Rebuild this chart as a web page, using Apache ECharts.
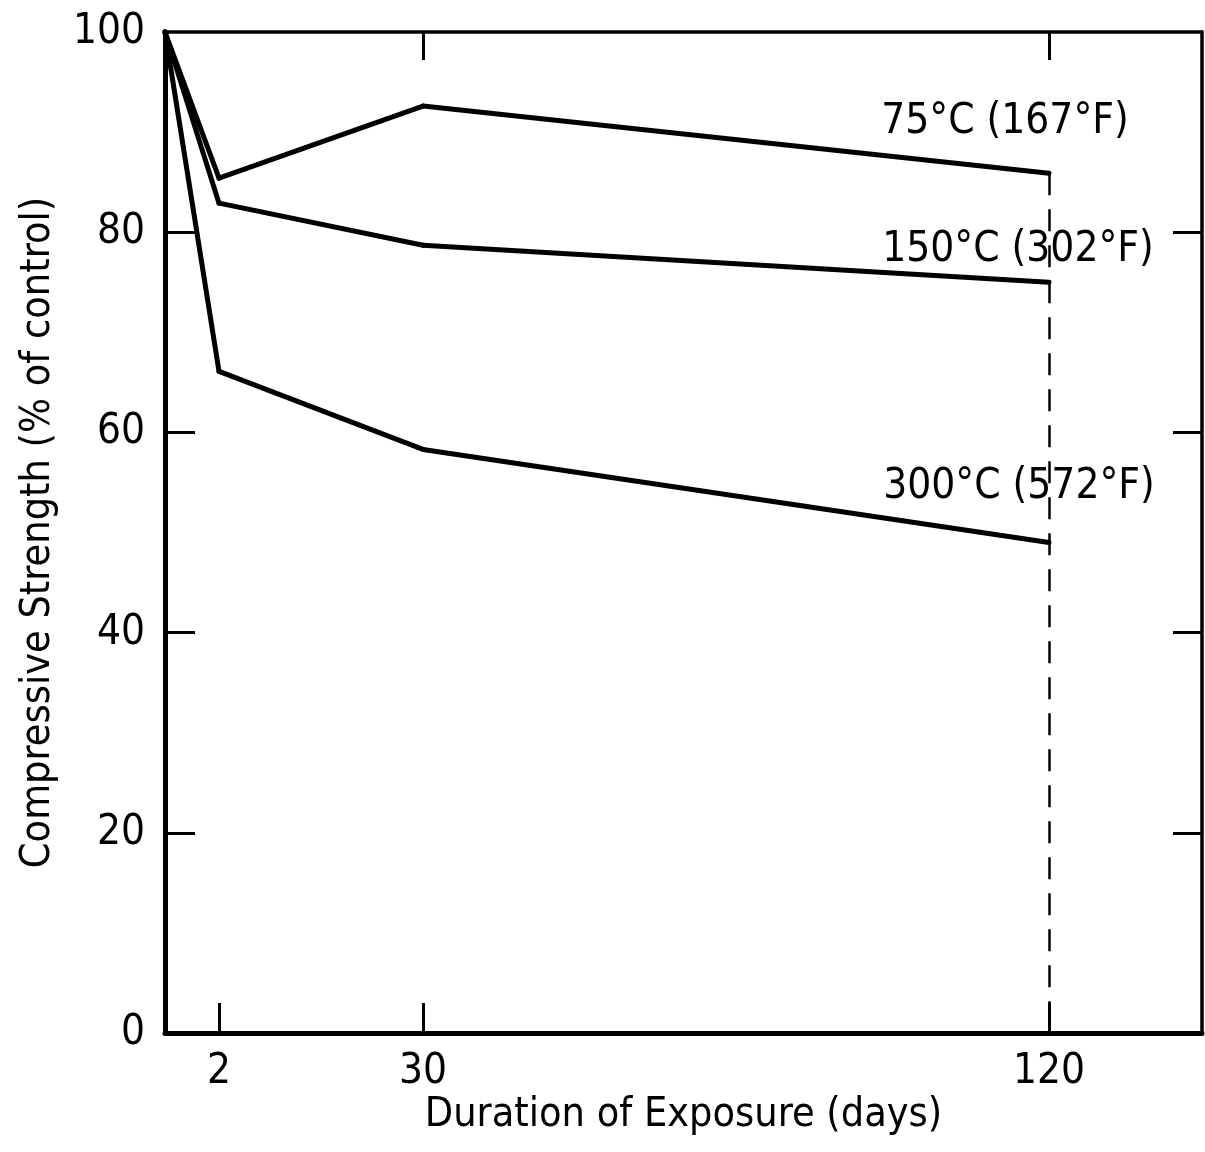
<!DOCTYPE html>
<html><head><meta charset="utf-8">
<script src="https://cdn.jsdelivr.net/npm/echarts@6/dist/echarts.min.js"></script>
<style>html,body{margin:0;padding:0;background:#fff}#c{width:1205px;height:1152px}</style>
</head><body><div id="c"></div><script>
// ---- data ----
const days = [0, 2, 30, 120];
const s75 = [100, 85.4, 92.6, 85.9];
const s150 = [100, 82.9, 78.7, 75.0];
const s300 = [100, 66.1, 58.3, 49.0];
const seriesNames = ['75\u00B0C (167\u00B0F)', '150\u00B0C (302\u00B0F)', '300\u00B0C (572\u00B0F)'];
const yTickLabels = [0, 20, 40, 60, 80, 100];
const yInnerTicks = [20, 40, 60, 80];
const xTickLabels = [2, 30, 120];
const xTitle = 'Duration of Exposure (days)';
const yTitle = 'Compressive Strength (% of control)';

// ---- layout / style ----
const FONT = "'Liberation Sans Narrow','Arial Narrow','DejaVu Sans Condensed',sans-serif";
const FS = 42;
const TFS = 41;
const TOP = 32, BOTTOM = 119;
// the original axis is piecewise: 0-2, 2-30, 30-142 days, each linear
const segRange = [[0, 2], [2, 30], [30, 142]];
const labelOffsets = [[-44, -51], [-31, -32], [-30, -55]];
const allSeries = [s75, s150, s300];

const grids = [
  {left: 165, width: 54, top: TOP, bottom: BOTTOM},
  {left: 219, width: 204, top: TOP, bottom: BOTTOM},
  {left: 423, right: 3, top: TOP, bottom: BOTTOM},
  {left: 165, right: 3, top: TOP, bottom: BOTTOM}
];

const tickStyle = {color: '#000', width: 3};
const xAxes = [];
// bottom segment axes with ticks + labels
segRange.forEach((r, k) => {
  xAxes.push({
    type: 'value', gridIndex: k, min: r[0], max: r[1], position: 'bottom',
    axisLine: {show: false, onZero: false}, splitLine: {show: false},
    axisTick: {show: true, inside: true, length: 30, lineStyle: tickStyle, customValues: [xTickLabels[k]]},
    axisLabel: {show: true, customValues: [xTickLabels[k]], color: '#000', fontFamily: FONT, fontSize: FS, margin: 18}
  });
});
// top segment axes with ticks only (30 and 120)
[1, 2].forEach(k => {
  xAxes.push({
    type: 'value', gridIndex: k, min: segRange[k][0], max: segRange[k][1], position: 'top',
    axisLine: {show: false, onZero: false}, splitLine: {show: false}, axisLabel: {show: false},
    axisTick: {show: true, inside: true, length: 28, lineStyle: tickStyle, customValues: [xTickLabels[k]]}
  });
});
// frame: bottom axis line + name, top border
xAxes.push({
  type: 'value', gridIndex: 3, min: 0, max: 1, position: 'bottom',
  axisLine: {show: true, onZero: false, lineStyle: {color: '#000', width: 5}},
  axisTick: {show: false}, axisLabel: {show: false}, splitLine: {show: false},
  name: xTitle, nameLocation: 'middle', nameGap: 62,
  nameTextStyle: {color: '#000', fontFamily: FONT, fontSize: TFS}
});
xAxes.push({
  type: 'value', gridIndex: 3, min: 0, max: 1, position: 'top',
  axisLine: {show: true, onZero: false, lineStyle: {color: '#000', width: 3.5}},
  axisTick: {show: false}, axisLabel: {show: false}, splitLine: {show: false}
});

const yAxes = [
  {type: 'value', gridIndex: 0, min: 0, max: 100, show: false},
  {type: 'value', gridIndex: 1, min: 0, max: 100, show: false},
  {type: 'value', gridIndex: 2, min: 0, max: 100, show: false},
  {
    type: 'value', gridIndex: 3, min: 0, max: 100, position: 'left',
    axisLine: {show: true, onZero: false, lineStyle: {color: '#000', width: 5}},
    axisTick: {show: true, inside: true, length: 30, lineStyle: tickStyle, customValues: yInnerTicks},
    axisLabel: {show: true, customValues: yTickLabels, color: '#000', fontFamily: FONT, fontSize: FS, margin: 20},
    splitLine: {show: false},
    name: yTitle, nameLocation: 'middle', nameGap: 106,
    nameTextStyle: {color: '#000', fontFamily: FONT, fontSize: TFS}
  },
  {
    type: 'value', gridIndex: 3, min: 0, max: 100, position: 'right',
    axisLine: {show: true, onZero: false, lineStyle: {color: '#000', width: 3.5}},
    axisTick: {show: true, inside: true, length: 29, lineStyle: tickStyle, customValues: yInnerTicks},
    axisLabel: {show: false}, splitLine: {show: false}
  }
];

const series = [];
allSeries.forEach((vals, si) => {
  for (let k = 0; k < 3; k++) {
    const s = {
      type: 'line', xAxisIndex: k, yAxisIndex: k, silent: true, clip: false,
      symbol: 'none', showSymbol: false,
      lineStyle: {color: '#000', width: 5, cap: 'round', join: 'round'},
      data: [[days[k], vals[k]], [days[k + 1], vals[k + 1]]]
    };
    if (k === 2) {
      s.markPoint = {
        silent: true, symbol: 'circle', symbolSize: 1,
        itemStyle: {color: 'rgba(0,0,0,0)'},
        label: {show: true, position: 'inside', formatter: seriesNames[si], color: '#000',
                fontFamily: FONT, fontSize: FS, offset: labelOffsets[si]},
        data: [{coord: [days[3], vals[3]]}]
      };
      if (si === 0) {
        s.markLine = {
          silent: true, symbol: ['none', 'none'], label: {show: false},
          lineStyle: {color: '#000', width: 2.5, type: [22, 14]},
          data: [[{coord: [days[3], vals[3]]}, {coord: [days[3], 0]}]]
        };
      }
    }
    series.push(s);
  }
});

const chart = echarts.init(document.getElementById('c'), null, {renderer: 'canvas'});
chart.setOption({
  animation: false, backgroundColor: '#fff',
  grid: grids, xAxis: xAxes, yAxis: yAxes, series: series
});
</script></body></html>
